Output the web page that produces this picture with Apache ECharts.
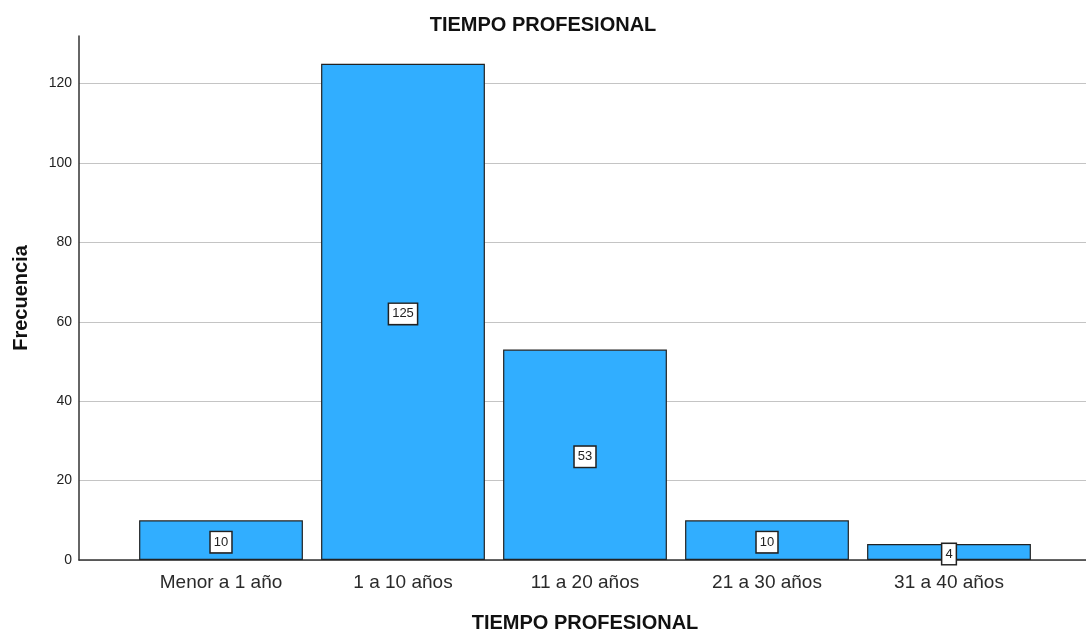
<!DOCTYPE html>
<html>
<head>
<meta charset="utf-8">
<script src="https://cdn.jsdelivr.net/npm/echarts@6/dist/echarts.min.js"></script>
<style>
  html, body { margin: 0; padding: 0; background: #fff; }
  #chart { width: 1086px; height: 634px; }
</style>
</head>
<body>
<div id="chart"></div>
<script>
// datos del gráfico
var categories = ['Menor a 1 año', '1 a 10 años', '11 a 20 años', '21 a 30 años', '31 a 40 años'];
var frecuencias = [10, 125, 53, 10, 4];
var yTicks = [0, 20, 40, 60, 80, 100, 120];

var chart = echarts.init(document.getElementById('chart'));
var font = 'Liberation Sans, Arial, sans-serif';

var option = {
  animation: false,
  textStyle: { fontFamily: font },
  title: {
    text: 'TIEMPO PROFESIONAL',
    left: 'center',
    top: 10,
    textStyle: { fontSize: 20, fontWeight: 'bold', color: '#111', fontFamily: font }
  },
  grid: [
    // ejes y líneas de cuadrícula
    { left: 79, right: 0, top: 36, bottom: 74, outerBoundsMode: 'none' },
    // barras
    { left: 130, right: 46, top: 36, bottom: 74, outerBoundsMode: 'none' }
  ],
  xAxis: [
    {
      gridIndex: 0,
      type: 'category',
      data: [''],
      axisLine: { show: true, lineStyle: { color: '#333', width: 1.5 } },
      axisTick: { show: false },
      axisLabel: { show: false },
      splitLine: { show: false }
    },
    {
      gridIndex: 1,
      type: 'category',
      data: categories,
      axisLine: { show: false },
      axisTick: { show: false },
      axisLabel: { fontSize: 19, color: '#2a2a2a', margin: 13, fontFamily: font },
      name: 'TIEMPO PROFESIONAL',
      nameLocation: 'middle',
      nameGap: 53,
      nameTextStyle: { fontSize: 20, fontWeight: 'bold', color: '#111', fontFamily: font }
    }
  ],
  yAxis: [
    {
      gridIndex: 0,
      type: 'value',
      min: 0,
      max: 132,
      interval: 20,
      axisLine: { show: true, lineStyle: { color: '#333', width: 1.5 } },
      axisTick: { show: false },
      axisLabel: {
        fontSize: 14,
        color: '#222',
        margin: 7,
        showMaxLabel: false,
        formatter: function (v) { return yTicks.indexOf(v) >= 0 ? String(v) : ''; }
      },
      splitLine: { show: true, showMaxLine: false, lineStyle: { color: '#c4c4c4', width: 1.2 } },
      name: 'Frecuencia',
      nameLocation: 'middle',
      nameGap: 48,
      nameTextStyle: { fontSize: 20, fontWeight: 'bold', color: '#111', fontFamily: font }
    },
    {
      gridIndex: 1,
      type: 'value',
      min: 0,
      max: 132,
      show: false
    }
  ],
  series: [{
    name: 'Frecuencia',
    type: 'bar',
    xAxisIndex: 1,
    yAxisIndex: 1,
    data: frecuencias,
    barCategoryGap: '10%',
    itemStyle: { color: '#31AEFF', borderColor: '#222', borderWidth: 1.2 },
    label: {
      show: true,
      position: 'inside',
      offset: [0, 2],
      color: '#222',
      fontSize: 13,
      lineHeight: 15,
      backgroundColor: '#fff',
      borderColor: '#222',
      borderWidth: 1.5,
      padding: [3, 3, 2, 3],
      fontFamily: font
    }
  }]
};

chart.setOption(option);
</script>
</body>
</html>
